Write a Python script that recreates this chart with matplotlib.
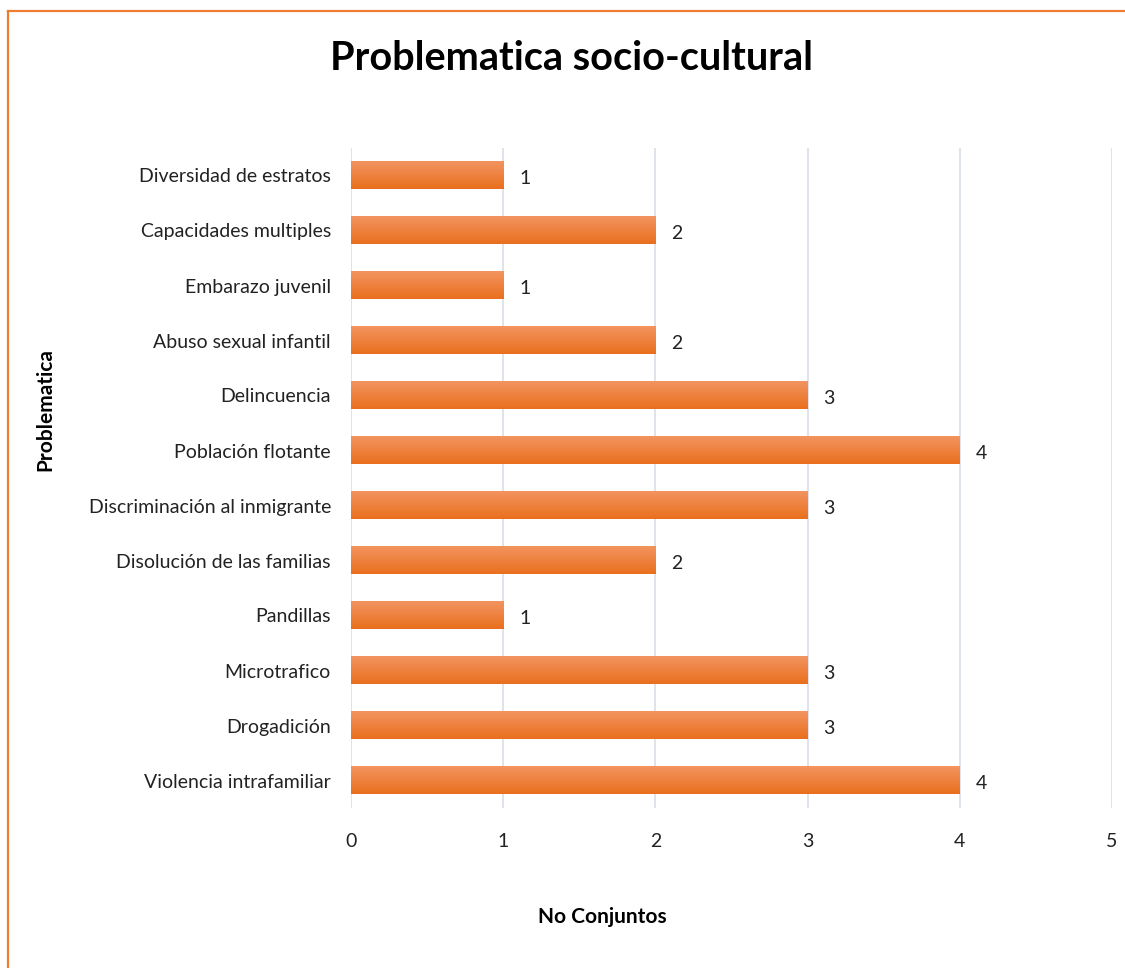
import matplotlib.pyplot as plt
import numpy as np
from matplotlib.colors import LinearSegmentedColormap
from matplotlib.lines import Line2D

plt.rcParams['font.family'] = ['Lato', 'DejaVu Sans']

# datos
categorias = ['Violencia intrafamiliar', 'Drogadición', 'Microtrafico', 'Pandillas',
              'Disolución de las familias', 'Discriminación al inmigrante',
              'Población flotante', 'Delincuencia', 'Abuso sexual infantil',
              'Embarazo juvenil', 'Capacidades multiples', 'Diversidad de estratos']
valores = [4, 3, 3, 1, 2, 3, 4, 3, 2, 1, 2, 1]
ticks_x = [0, 1, 2, 3, 4, 5]

W, H = 1125, 968
fig = plt.figure(figsize=(W / 100, H / 100), dpi=100)
ax = fig.add_axes([351 / W, 1 - 808 / H, (1112 - 351) / W, (808 - 148) / H])

y = np.arange(len(categorias))
barras = ax.barh(y, valores, height=0.5, color='#EE7E32', zorder=2)

# degradado de cada barra (claro arriba, oscuro abajo)
cmap = LinearSegmentedColormap.from_list('naranja', ['#E96F1E', '#F39460'])
grad = np.linspace(0, 1, 64).reshape(-1, 1)
for b in barras:
    x0, y0 = b.get_x(), b.get_y()
    ancho, alto = b.get_width(), b.get_height()
    ax.imshow(grad, cmap=cmap, aspect='auto', origin='lower',
              extent=[x0, x0 + ancho, y0, y0 + alto], zorder=3)

for yi, v in zip(y, valores):
    ax.text(v + 0.105, yi - 0.06, str(v), va='center', ha='left', fontsize=14, color='#222222')

ax.set_xlim(0, 5)
ax.set_ylim(-0.5, len(categorias) - 0.5)
ax.set_xticks(ticks_x)
ax.set_yticks(y)
ax.set_yticklabels(categorias)
ax.tick_params(axis='both', length=0, labelsize=14, colors='#222222')
ax.tick_params(axis='x', pad=18)
ax.tick_params(axis='y', pad=14.4)
ax.grid(axis='x', color='#DCE0E8', linewidth=1.3, zorder=0)
for s in ax.spines.values():
    s.set_visible(False)

fig.text(571 / W, 1 - 58 / H, 'Problematica socio-cultural', ha='center', va='center',
         fontsize=28.5, fontweight='bold')
fig.text(602 / W, 1 - 917 / H, 'No Conjuntos', ha='center', va='center',
         fontsize=15, fontweight='bold')
fig.text(45 / W, 1 - 410 / H, 'Problematica', ha='center', va='center',
         fontsize=15, fontweight='bold', rotation=90)

# borde del gráfico (solo visible arriba e izquierda)
fig.add_artist(Line2D([8 / W, 8 / W], [0, 1 - 11 / H], transform=fig.transFigure,
                      color='#ED7D31', linewidth=1.6))
fig.add_artist(Line2D([8 / W, 1], [1 - 11 / H, 1 - 11 / H], transform=fig.transFigure,
                      color='#ED7D31', linewidth=1.6))

fig.savefig('out.png', dpi=100)
